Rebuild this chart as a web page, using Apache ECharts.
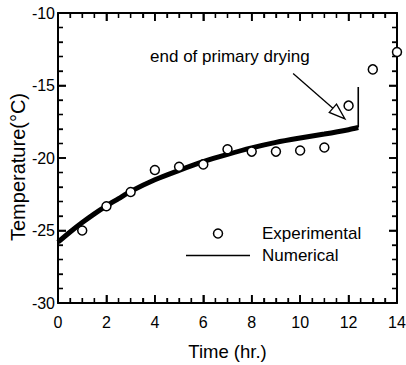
<!DOCTYPE html>
<html>
<head>
<meta charset="utf-8">
<script src="https://cdn.jsdelivr.net/npm/echarts@6/dist/echarts.min.js"></script>
<style>html,body{margin:0;padding:0;background:#fff;}#c{width:406px;height:365px;}</style>
</head>
<body>
<div id="c"></div>
<script>
// ---- data ----
const expTime = [1, 2, 3, 4, 5, 6, 7, 8, 9, 10, 11, 12, 13, 14];
const expTemp = [-25.0, -23.33, -22.34, -20.83, -20.6, -20.44, -19.4, -19.56, -19.56, -19.48, -19.28, -16.39, -13.89, -12.69];
const numTime = [0, 0.5, 1, 1.5, 2, 2.5, 3, 4, 5, 6, 7, 8, 9, 10, 11, 12, 12.4];
const numTemp = [-25.8, -25.1, -24.45, -23.85, -23.3, -22.8, -22.3, -21.5, -20.85, -20.25, -19.75, -19.3, -18.92, -18.62, -18.35, -18.05, -17.9];
const endTime = [12.4, 12.4];
const endTemp = [-17.9, -15.1];
const seriesNames = ['Experimental', 'Numerical'];
const xAxisTitle = 'Time (hr.)';
const yAxisTitle = 'Temperature(°C)';
const xRange = [0, 14], xMajorStep = 2, xMinorStep = 0.5;
const yRange = [-30, -10], yMajorStep = 5, yMinorStep = 1;
const annotText = 'end of primary drying';
const annotPos = [7.1, -12.99];
const arrowTail = [9.71, -14.17];
const arrowTip = [11.85, -17.3];

const FONT = "'Liberation Sans', Arial, Helvetica, sans-serif";
const chart = echarts.init(document.getElementById('c'), null, {renderer: 'svg'});

function xAx(pos, showLabel) {
  return {
    type: 'value', position: pos, min: xRange[0], max: xRange[1], interval: xMajorStep,
    name: showLabel ? xAxisTitle : '', nameLocation: 'middle', nameGap: 39,
    nameTextStyle: {fontFamily: FONT, fontSize: 18.5, color: '#000'},
    axisLine: {show: true, onZero: false, lineStyle: {color: '#000', width: 2}},
    axisTick: {show: true, inside: true, length: 8, lineStyle: {color: '#000', width: 1.6}},
    minorTick: {show: true, splitNumber: 4, length: 5, lineStyle: {color: '#000', width: 1.3}},
    axisLabel: {show: showLabel, margin: 11, fontFamily: FONT, fontSize: 16, color: '#000'},
    splitLine: {show: false}, minorSplitLine: {show: false}
  };
}
function yAx(pos, showLabel) {
  return {
    type: 'value', position: pos, min: yRange[0], max: yRange[1], interval: yMajorStep,
    axisLine: {show: true, onZero: false, lineStyle: {color: '#000', width: 2}},
    axisTick: {show: true, inside: true, length: 8, lineStyle: {color: '#000', width: 1.6}},
    minorTick: {show: true, splitNumber: 5, length: 5, lineStyle: {color: '#000', width: 1.3}},
    axisLabel: {show: showLabel, margin: 3, fontFamily: FONT, fontSize: 16, color: '#000'},
    splitLine: {show: false}, minorSplitLine: {show: false}
  };
}

const option = {
  animation: false,
  backgroundColor: '#fff',
  grid: {show: false, borderWidth: 0, left: 58, right: 9, top: 13, bottom: 62, containLabel: false, outerBoundsMode: 'none'},
  xAxis: [xAx('bottom', true), xAx('top', false)],
  yAxis: [yAx('left', true), yAx('right', false)],
  legend: {
    orient: 'vertical', left: 181, top: 220, padding: 5,
    itemWidth: 64, itemHeight: 9, itemGap: 5, symbolKeepAspect: true,
    textStyle: {fontFamily: FONT, fontSize: 17, color: '#000', padding: [0, 0, 0, 7]},
    data: [
      {name: seriesNames[0], icon: 'circle', itemStyle: {color: '#fff', borderColor: '#000', borderWidth: 1.5}},
      {name: seriesNames[1], icon: 'path://M0,0H64V1.5H0Z', itemStyle: {color: '#000', borderWidth: 0}}
    ]
  },
  series: [
    {
      name: seriesNames[1], type: 'line', xAxisIndex: 0, yAxisIndex: 0,
      data: numTime.map((t, i) => [t, numTemp[i]]),
      smooth: 0.3, symbol: 'none', showSymbol: false,
      lineStyle: {color: '#000', width: 5, cap: 'butt'}, itemStyle: {color: '#000'}, z: 2
    },
    {
      name: 'end', type: 'line', data: endTime.map((t, i) => [t, endTemp[i]]),
      symbol: 'none', lineStyle: {color: '#000', width: 1.6}, z: 2
    },
    {
      name: seriesNames[0], type: 'scatter', xAxisIndex: 0, yAxisIndex: 0,
      data: expTime.map((t, i) => [t, expTemp[i]]),
      symbol: 'circle', symbolSize: 9,
      itemStyle: {color: '#fff', borderColor: '#000', borderWidth: 1.5, opacity: 1}, z: 5
    }
  ]
};
chart.setOption(option);

const graphics = [];
const toPx = (x, y) => chart.convertToPixel({gridIndex: 0}, [x, y]);
// inward-pointing ticks on all four sides (thin filled rects), placed through the axes' scales
const cBL = toPx(xRange[0], yRange[0]);
const cTR = toPx(xRange[1], yRange[1]);
const gLeft = cBL[0], gBottom = cBL[1], gRight = cTR[0], gTop = cTR[1];
function isMajor(v, step) { return Math.abs(v / step - Math.round(v / step)) < 1e-6; }
function tickRect(x, y, w, h) {
  return {type: 'rect', z: 100, shape: {x: x, y: y, width: w, height: h}, style: {fill: '#000'}};
}
const nTx = Math.round((xRange[1] - xRange[0]) / xMinorStep);
for (let i = 1; i < nTx; i++) {
  const v = xRange[0] + i * xMinorStep;
  const maj = isMajor(v, xMajorStep);
  const L = maj ? 8 : 5, w = maj ? 1.6 : 1.3;
  const px = toPx(v, yRange[0])[0];
  graphics.push(tickRect(px - w / 2, gBottom - L, w, L));
  graphics.push(tickRect(px - w / 2, gTop, w, L));
}
const nTy = Math.round((yRange[1] - yRange[0]) / yMinorStep);
for (let i = 1; i < nTy; i++) {
  const v = yRange[0] + i * yMinorStep;
  const maj = isMajor(v, yMajorStep);
  const L = maj ? 8 : 5, w = maj ? 1.6 : 1.3;
  const py = toPx(xRange[0], v)[1];
  graphics.push(tickRect(gLeft, py - w / 2, L, w));
  graphics.push(tickRect(gRight - L, py - w / 2, L, w));
}

// y-axis title, rotated, beside the left axis
graphics.push({type: 'text', x: 18, y: (gTop + gBottom) / 2 + 9, rotation: Math.PI / 2, z: 100,
  style: {text: yAxisTitle, fontFamily: FONT, fontSize: 20, fill: '#000', align: 'center', verticalAlign: 'middle'}});

// annotation: text + hollow-headed arrow positioned through the axes' scales
const tp = toPx(annotPos[0], annotPos[1]);
const p0 = toPx(arrowTail[0], arrowTail[1]);
const p1 = toPx(arrowTip[0], arrowTip[1]);
const dx = p1[0] - p0[0], dy = p1[1] - p0[1];
const len = Math.sqrt(dx * dx + dy * dy);
const ux = dx / len, uy = dy / len, nxv = -uy, nyv = ux;
const HL = 16, HW = 5.5;
const bx = p1[0] - ux * HL, by = p1[1] - uy * HL;
graphics.push(
  {type: 'text', x: tp[0], y: tp[1], z: 100,
   style: {text: annotText, fontFamily: FONT, fontSize: 17, fill: '#000', align: 'center', verticalAlign: 'middle'}},
  {type: 'line', z: 100, shape: {x1: p0[0], y1: p0[1], x2: bx, y2: by}, style: {stroke: '#000', lineWidth: 1.3}},
  {type: 'polygon', z: 100, shape: {points: [[p1[0], p1[1]], [bx + nxv * HW, by + nyv * HW], [bx - nxv * HW, by - nyv * HW]]},
   style: {fill: '#fff', stroke: '#000', lineWidth: 1.3}}
);
chart.setOption({graphic: graphics});
</script>
</body>
</html>
